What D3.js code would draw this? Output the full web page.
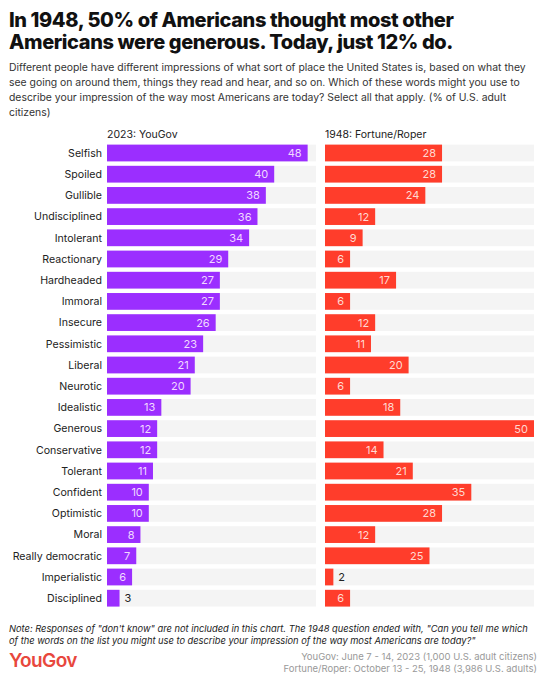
<!DOCTYPE html>
<html>
<head>
<meta charset="utf-8">
<script src="https://cdn.jsdelivr.net/npm/d3@7"></script>
<style>
  body { margin: 0; background: #fff; }
  svg text { font-family: Inter, "Noto Sans", sans-serif; }
</style>
</head>
<body>
<div id="chart"></div>
<script>
var words = ["Selfish", "Spoiled", "Gullible", "Undisciplined", "Intolerant", "Reactionary",
    "Hardheaded", "Immoral", "Insecure", "Pessimistic", "Liberal", "Neurotic", "Idealistic",
    "Generous", "Conservative", "Tolerant", "Confident", "Optimistic", "Moral",
    "Really democratic", "Imperialistic", "Disciplined"];
var values2023 = [48, 40, 38, 36, 34, 29, 27, 27, 26, 23, 21, 20, 13, 12, 12, 11, 10, 10, 8, 7, 6, 3];
var values1948 = [28, 28, 24, 12, 9, 6, 17, 6, 12, 11, 20, 6, 18, 50, 14, 21, 35, 28, 12, 25, 2, 6];
var panelTitles = ["2023: YouGov", "1948: Fortune/Roper"];

var titleLines = ["In 1948, 50% of Americans thought most other",
    "Americans were generous. Today, just 12% do."];
var subtitleLines = [
    "Different people have different impressions of what sort of place the United States is, based on what they",
    "see going on around them, things they read and hear, and so on. Which of these words might you use to",
    "describe your impression of the way most Americans are today? Select all that apply. (% of U.S. adult",
    "citizens)"];
var noteLines = [
    "Note: Responses of \"don't know\" are not included in this chart. The 1948 question ended with, \"Can you tell me which",
    "of the words on the list you might use to describe your impression of the way most Americans are today?\""];
var sourceLines = ["YouGov: June 7 - 14, 2023 (1,000 U.S. adult citizens)",
    "Fortune/Roper: October 13 - 25, 1948 (3,986 U.S. adults)"];

var width = 547, height = 680;
var svg = d3.select("#chart").append("svg")
    .attr("width", width)
    .attr("height", height);

// title + subtitle
svg.selectAll(".title")
    .data(titleLines)
    .enter()
    .append("text")
    .attr("x", 9)
    .attr("y", function(d, i) { return 27 + i * 22; })
    .attr("font-size", "20px")
    .attr("font-weight", 800)
    .attr("letter-spacing", "-0.4px")
    .attr("fill", "#111")
    .text(function(d) { return d; });

svg.selectAll(".subtitle")
    .data(subtitleLines)
    .enter()
    .append("text")
    .attr("x", 9)
    .attr("y", function(d, i) { return 71 + i * 15; })
    .attr("font-size", "10.4px")
    .attr("fill", "#333")
    .text(function(d) { return d; });

// layout
var y = d3.scaleBand()
    .domain(words)
    .range([142.4, 608.8])
    .paddingInner(0.21)
    .paddingOuter(0.105);

var x = d3.scaleLinear().domain([0, 50]).range([0, 209]);

var panels = [
    { left: 107, values: values2023, color: "#9b2eff", inside: "#f1d9ff" },
    { left: 325, values: values1948, color: "#ff3d2b", inside: "#ffd9d2" }
];

var rows = words.map(function(w, i) {
    return { word: w, v2023: values2023[i], v1948: values1948[i] };
});

panels.forEach(function(p, pi) {
    var g = svg.append("g").attr("transform", "translate(" + p.left + ",0)");
    var data = words.map(function(w, i) { return { word: w, value: p.values[i] }; });

    g.append("text")
        .attr("x", 0)
        .attr("y", 138)
        .attr("font-size", "10.5px")
        .attr("fill", "#222")
        .text(panelTitles[pi]);

    g.selectAll(".bg")
        .data(data)
        .enter()
        .append("rect")
        .attr("x", 0)
        .attr("y", function(d) { return y(d.word); })
        .attr("width", x.range()[1])
        .attr("height", y.bandwidth())
        .attr("fill", "#f4f4f4");

    g.selectAll(".bar")
        .data(data)
        .enter()
        .append("rect")
        .attr("x", 0)
        .attr("y", function(d) { return y(d.word); })
        .attr("width", function(d) { return x(d.value); })
        .attr("height", y.bandwidth())
        .attr("fill", p.color);

    g.selectAll(".val")
        .data(data)
        .enter()
        .append("text")
        .attr("x", function(d) { return d.value < 5 ? x(d.value) + 5 : x(d.value) - 6; })
        .attr("y", function(d) { return y(d.word) + y.bandwidth() / 2; })
        .attr("dy", "0.36em")
        .attr("text-anchor", function(d) { return d.value < 5 ? "start" : "end"; })
        .attr("font-size", "11px")
        .attr("fill", function(d) { return d.value < 5 ? "#222" : p.inside; })
        .text(function(d) { return d.value; });
});

// row labels
svg.selectAll(".label")
    .data(rows)
    .enter()
    .append("text")
    .attr("x", 102)
    .attr("y", function(d) { return y(d.word) + y.bandwidth() / 2; })
    .attr("dy", "0.36em")
    .attr("text-anchor", "end")
    .attr("font-size", "10.6px")
    .attr("fill", "#222")
    .text(function(d) { return d.word; });

// footer
svg.selectAll(".note")
    .data(noteLines)
    .enter()
    .append("text")
    .attr("x", 9)
    .attr("y", function(d, i) { return 632 + i * 12; })
    .attr("font-size", "9.3px")
    .attr("font-style", "italic")
    .attr("fill", "#222")
    .text(function(d) { return d; });

svg.append("text")
    .attr("x", 9)
    .attr("y", 667)
    .attr("font-size", "19px")
    .attr("font-weight", 600)
    .attr("letter-spacing", "-0.6px")
    .attr("fill", "#e8473d")
    .text("YouGov");

svg.selectAll(".source")
    .data(sourceLines)
    .enter()
    .append("text")
    .attr("x", 537)
    .attr("y", function(d, i) { return 660 + i * 12; })
    .attr("text-anchor", "end")
    .attr("font-size", "9.5px")
    .attr("fill", "#999")
    .text(function(d) { return d; });
</script>
</body>
</html>
